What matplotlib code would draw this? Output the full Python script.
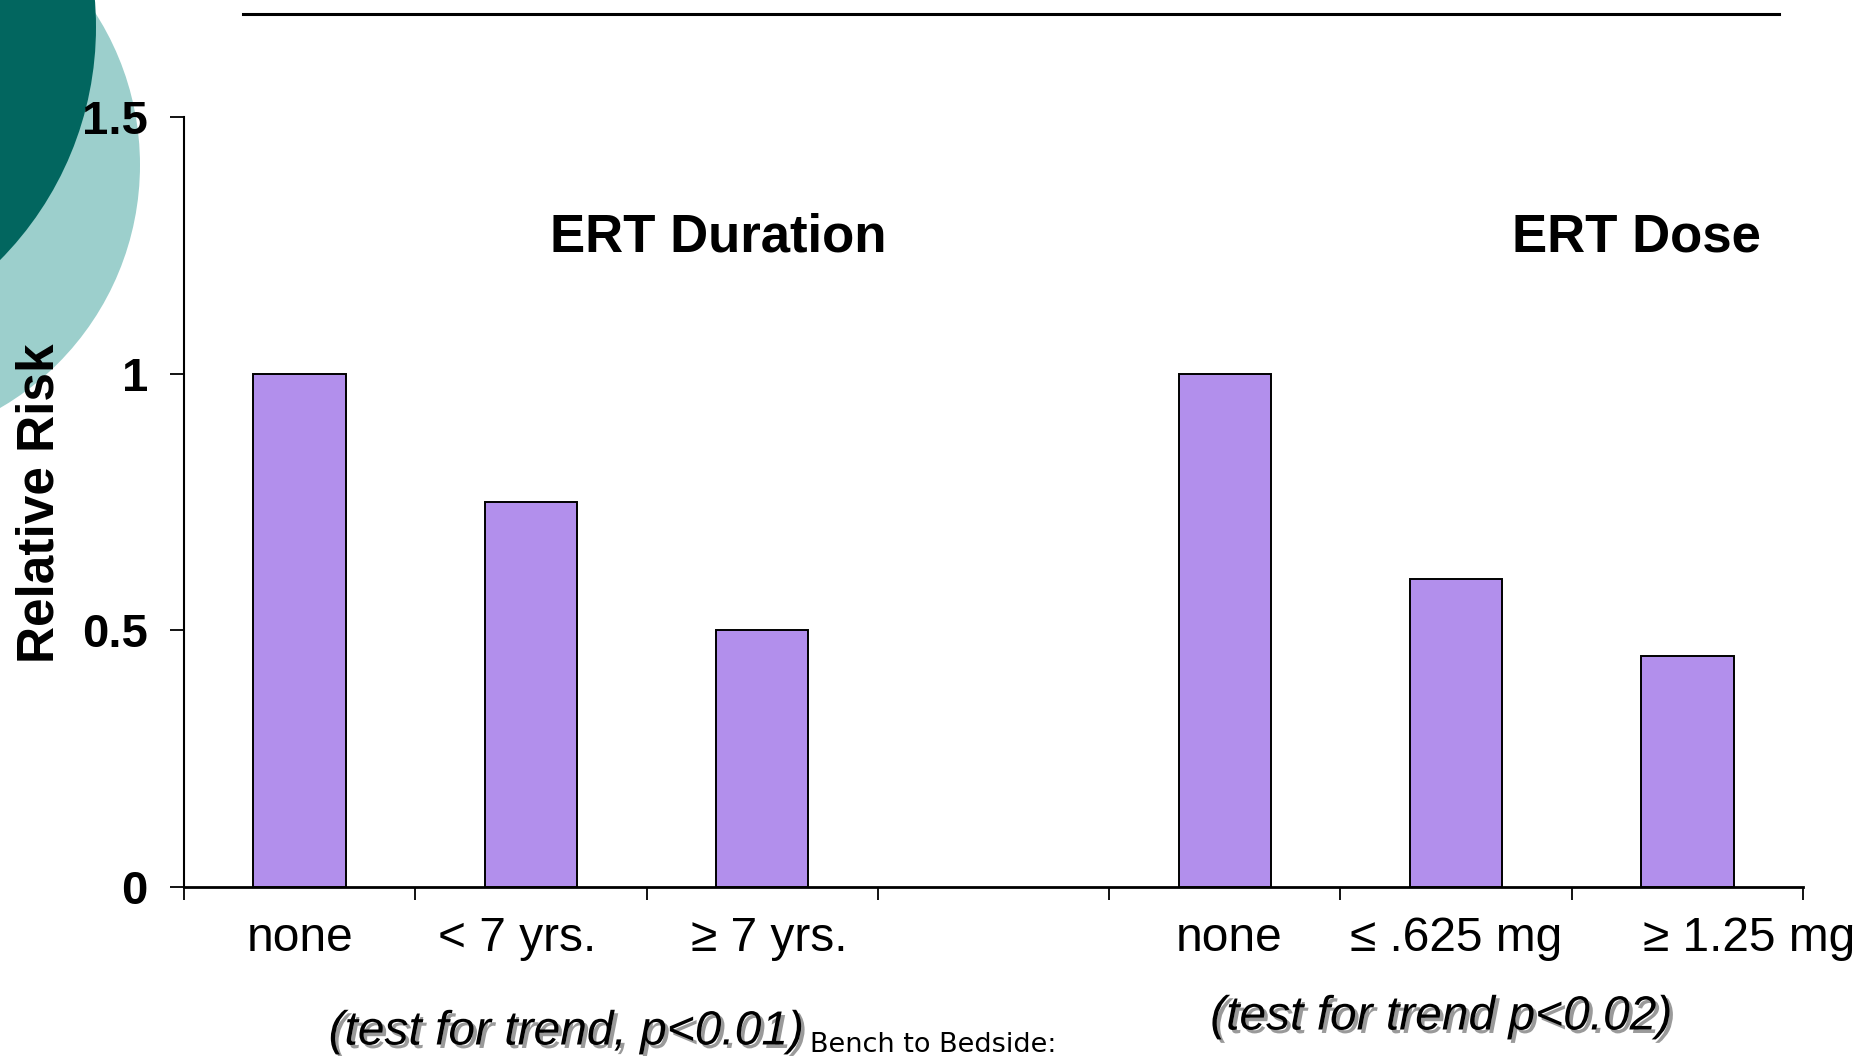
import matplotlib
matplotlib.use("Agg")
import matplotlib.pyplot as plt
import matplotlib.patheffects as pe
import matplotlib.transforms as mtransforms
from matplotlib.patches import Circle
import numpy as np

plt.rcParams['font.family'] = ['Liberation Sans', 'DejaVu Sans']

# data
duration_labels = ['none', '< 7 yrs.', '\u2265 7 yrs.']
duration_rr = [1.0, 0.75, 0.5]
dose_labels = ['none', '\u2264 .625 mg', '\u2265 1.25 mg']
dose_rr = [1.0, 0.6, 0.45]
yticks = [0, 0.5, 1, 1.5]
ytick_labels = ['0', '0.5', '1', '1.5']

bar_color = '#B28FEC'

fig = plt.figure(figsize=(18.6, 10.56), dpi=100)

# decorative circles in the top-left corner (pixel space background)
bg = fig.add_axes([0, 0, 1, 1], zorder=-5)
bg.set_xlim(0, 1860)
bg.set_ylim(1056, 0)
bg.axis('off')
bg.add_patch(Circle((-141, 165), 281, color='#9CCFCC', lw=0))
bg.add_patch(Circle((-235, 27), 331, color='#02665F', lw=0))
bg.plot([243, 1779], [14, 14], color='black', lw=2.2)

ax = fig.add_axes([184/1860, 1-887/1056, (1803-184)/1860, (887-117)/1056])
ax.patch.set_alpha(0)

labels = duration_labels + [''] + dose_labels
values = duration_rr + [np.nan] + dose_rr
pos = np.arange(len(labels))
mask = ~np.isnan(values)
ax.bar(pos[mask], np.array(values)[mask], width=0.4, color=bar_color,
       edgecolor='black', linewidth=1.4, zorder=3)

ax.set_xlim(-0.5, len(labels) - 0.5)
ax.set_ylim(0, 1.5)
ax.spines['top'].set_visible(False)
ax.spines['right'].set_visible(False)
ax.spines['left'].set_linewidth(1.5)
ax.spines['bottom'].set_linewidth(2)

ax.set_xticks(pos)
ax.set_xticklabels(labels, fontsize=34.5)
ax.set_xticks(np.arange(len(labels) + 1) - 0.5, minor=True)
ax.tick_params(axis='x', which='major', length=0, pad=21)
ax.tick_params(axis='x', which='minor', length=9, width=1.3, direction='out')

# the slide's labels sit a little off-centre (leading spaces in the original)
label_shift_px = [0, -14, 7, 0, 4, 0, 62]
for lab, dx in zip(ax.get_xticklabels(), label_shift_px):
    lab.set_transform(lab.get_transform() +
                      mtransforms.ScaledTranslation(dx / 100, 0, fig.dpi_scale_trans))

ax.set_yticks(yticks)
ax.set_yticklabels(ytick_labels, fontsize=34, fontweight='bold')
ax.tick_params(axis='y', length=10, width=1.3, pad=16)

ax.text(1.81, 1.266, 'ERT Duration', fontsize=38, fontweight='bold',
        ha='center', va='center')
ax.text(5.78, 1.266, 'ERT Dose', fontsize=38, fontweight='bold',
        ha='center', va='center')

fig.text(40/1860, 1-503/1056, 'Relative Risk', rotation=90, fontsize=37,
         fontweight='bold', ha='center', va='center')

shadow = [pe.withSimplePatchShadow(offset=(2.5, -2.5), shadow_rgbFace='#9a9a9a', alpha=1)]
fig.text(566/1860, 1-1032/1056, '(test for trend, p<0.01)', fontsize=34.5,
         style='italic', ha='center', va='center', path_effects=shadow)
fig.text(1441/1860, 1-1017/1056, '(test for trend p<0.02)', fontsize=34.5,
         style='italic', ha='center', va='center', path_effects=shadow)
fig.text(810/1860, 1-1052/1056, 'Bench to Bedside:', fontsize=19.5,
         family='DejaVu Sans', ha='left', va='baseline')

fig.savefig('out.png', dpi=100)
